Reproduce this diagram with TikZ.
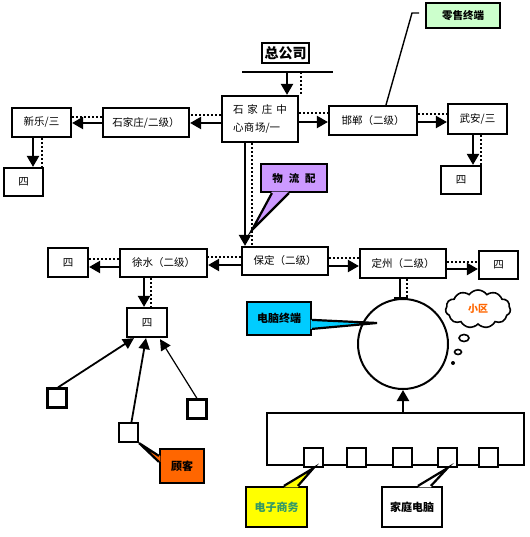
\documentclass[tikz,border=0pt]{standalone}
\usepackage{fontspec}
\usetikzlibrary{arrows.meta,shapes.symbols,calc}
\newfontfamily\cjk{Noto Sans CJK SC}
\definecolor{lsgreen}{HTML}{CCFFCC}
\definecolor{wlpurple}{HTML}{CC99FF}
\definecolor{dncyan}{HTML}{00CCFF}
\definecolor{gkorange}{HTML}{FF6600}
\definecolor{dzyellow}{HTML}{FFFF00}
\definecolor{dztext}{HTML}{339966}
\begin{document}
\begin{tikzpicture}[x=1pt,y=-1pt,
 box/.style={draw, line width=2.2pt, fill=white, inner sep=0pt, font=\cjk\fontsize{10.5}{12}\selectfont},
 sq/.style={draw, line width=2.2pt, fill=white, inner sep=0pt, minimum size=19pt},
 arr/.style={line width=2.2pt, -{Triangle[length=11pt,width=12pt]}},
 thinarr/.style={line width=1.6pt, -{Triangle[length=11pt,width=11pt]}},
 dotline/.style={line width=2.2pt, dash pattern=on 2pt off 2pt},
 call/.style={draw, line width=2.2pt, inner sep=0pt, font=\cjk\bfseries\fontsize{11}{13}\selectfont},
 tailline/.style={line width=2.2pt, line join=miter},
]
\useasboundingbox (0,0) rectangle (529,537);

% ---- top row ----
\node[box, minimum width=47pt, minimum height=20pt, line width=1.2pt, font=\cjk\bfseries\fontsize{14}{16}\selectfont] (zgs) at (285.5,53) {总公司};
\coordinate (barL) at (242,72);
\coordinate (barR) at (333,72);
\coordinate (barA) at (287,72);
\coordinate (barD) at (301,72);
\draw[line width=2.2pt] (barL) -- (barR);

\node[box, minimum width=76pt, minimum height=46pt, align=left, font=\cjk\fontsize{10.5}{18}\selectfont] (hq) at (260,119) {石\hspace{4pt}家\hspace{4pt}庄\hspace{4pt}中\\心\hspace{0.5pt}商\hspace{0.5pt}场/一};
\node[box, minimum width=86pt, minimum height=29pt] (sjz) at (146,122.5) {石家庄/二级）};
\node[box, minimum width=59pt, minimum height=29pt] (xinle) at (41.5,122.5) {新乐/三};
\node[box, minimum width=39pt, minimum height=28pt] (si1) at (23.5,182) {四};
\node[box, minimum width=88pt, minimum height=29pt] (handan) at (373,120.5) {邯郸（二级）};
\node[box, minimum width=59pt, minimum height=30pt] (wuan) at (477.5,119) {武安/三};
\node[box, minimum width=40pt, minimum height=28pt] (si2) at (461,180) {四};
\node[call, fill=lsgreen, minimum width=74pt, minimum height=25pt, font=\cjk\bfseries\fontsize{10.5}{12}\selectfont] (ls) at (463,15.5) {零售终端};

\draw[arr] (barA) -- (hq.north -| barA);
\draw[dotline] (barD) -- (hq.north -| barD);
\draw[arr] (hq.west |- 0,123) -- (sjz.east |- 0,123);
\draw[dotline] (hq.west |- 0,115) -- (sjz.east |- 0,115);
\draw[arr] (sjz.west |- 0,123) -- (xinle.east |- 0,123);
\draw[dotline] (sjz.west |- 0,117) -- (xinle.east |- 0,117);
\draw[arr] (xinle.south -| 33,0) -- (si1.north -| 33,0);
\draw[dotline] (xinle.south -| 42,0) -- (si1.north -| 42,0);
\draw[arr] (hq.east |- 0,122) -- (handan.west |- 0,122);
\draw[dotline] (hq.east |- 0,113) -- (handan.west |- 0,113);
\draw[arr] (handan.east |- 0,122) -- (wuan.west |- 0,122);
\draw[dotline] (handan.east |- 0,114) -- (wuan.west |- 0,114);
\draw[arr] (wuan.south -| 473,0) -- (si2.north -| 473,0);
\draw[dotline] (wuan.south -| 481,0) -- (si2.north -| 481,0);
\coordinate (lsA) at (412,13);
\coordinate (lsB) at (419,13);
\draw[line width=1.4pt] (handan.north -| 386,0) -- (lsA) -- (lsB);

% ---- middle row ----
\node[box, minimum width=86pt, minimum height=28pt] (baoding) at (285,261) {保定（二级）};
\node[box, minimum width=87pt, minimum height=28pt] (xushui) at (163.5,263) {徐水（二级）};
\node[box, minimum width=40pt, minimum height=29pt] (si3) at (68,262.5) {四};
\node[box, minimum width=40pt, minimum height=29pt] (si4) at (147,322.5) {四};
\node[box, minimum width=86pt, minimum height=29pt] (dingzhou) at (403,263.5) {定州（二级）};
\node[box, minimum width=39pt, minimum height=28pt] (si5) at (498.5,265) {四};

\draw[arr] (hq.south -| 245,0) -- (baoding.north -| 245,0);
\draw[dotline] (hq.south -| 252,0) -- (baoding.north -| 252,0);
\draw[arr] (baoding.west |- 0,265) -- (xushui.east |- 0,265);
\draw[dotline] (baoding.west |- 0,257) -- (xushui.east |- 0,257);
\draw[arr] (xushui.west |- 0,267) -- (si3.east |- 0,267);
\draw[dotline] (xushui.west |- 0,259) -- (si3.east |- 0,259);
\draw[arr] (xushui.south -| 144,0) -- (si4.north -| 144,0);
\draw[dotline] (xushui.south -| 151,0) -- (si4.north -| 151,0);
\draw[arr] (baoding.east |- 0,266) -- (dingzhou.west |- 0,266);
\draw[dotline] (baoding.east |- 0,258) -- (dingzhou.west |- 0,258);
\draw[arr] (dingzhou.east |- 0,269) -- (si5.west |- 0,269);
\draw[dotline] (dingzhou.east |- 0,262) -- (si5.west |- 0,262);

% purple callout
\node[call, fill=wlpurple, minimum width=66pt, minimum height=28pt, font=\cjk\bfseries\fontsize{10.5}{12}\selectfont] (wl) at (294,178) {物\hspace{6pt}流\hspace{6pt}配};
\coordinate (wlTip) at (252,230);
\fill[wlpurple] ($(wl.south west)+(12,-1.5)$) -- (wlTip) -- ($(wl.south west)+(29,-1.5)$) -- cycle;
\draw[tailline] ($(wl.south west)+(12,0)$) -- (wlTip) -- ($(wl.south west)+(29,0)$);

% ---- circle and cloud ----
\node[draw, circle, line width=2pt, minimum size=90pt, inner sep=0pt] (circ) at (403,344) {};
\draw[line width=2.2pt] (dingzhou.south -| 400,0) -- (circ.north -| 400,0);
\draw[dotline] (dingzhou.south -| 407,0) -- (circ.north -| 407,0);
\draw[line width=3pt] (circ.north -| 394,0) -- (circ.north -| 408,0);

\node[cloud, cloud puffs=11, cloud puff arc=110, aspect=1.7, draw, line width=1.6pt, minimum width=65pt, minimum height=38pt, inner sep=0pt, text=gkorange, font=\cjk\bfseries\fontsize{10}{12}\selectfont] (cloud) at (478,309) {小区};
\draw[line width=1.6pt] (464,338) ellipse (5 and 3.5);
\draw[line width=1.6pt] (458,352) ellipse (3.5 and 2.5);
\fill (453,363) circle (2);

% cyan callout
\node[call, fill=dncyan, minimum width=64pt, minimum height=33pt] (dn) at (279,318.5) {电脑终端};
\coordinate (dnTip) at (377,323);
\fill[dncyan] ($(dn.north east)+(-1.5,19)$) -- (dnTip) -- ($(dn.north east)+(-1.5,28)$) -- cycle;
\draw[tailline] ($(dn.north east)+(0,19)$) -- (dnTip) -- ($(dn.north east)+(0,28)$);

% ---- bottom right bus ----
\node[draw, line width=2.2pt, minimum width=257pt, minimum height=52pt, inner sep=0pt] (bus) at (395.5,439) {};
\draw[arr] (circ.south |- bus.north) -- (circ.south);
\node[sq] (b1) at (313.5,457.5) {};
\node[sq] (b2) at (356.5,457.5) {};
\node[sq] (b3) at (402.5,457.5) {};
\node[sq] (b4) at (447.5,457.5) {};
\node[sq] (b5) at (488.5,457.5) {};

\node[call, fill=dzyellow, text=dztext, minimum width=61pt, minimum height=40pt] (dz) at (276.5,507) {电子商务};
\fill[dzyellow] ($(dz.north west)+(39,1.5)$) -- (b1.south) -- ($(dz.north west)+(53,1.5)$) -- cycle;
\draw[tailline] ($(dz.north west)+(39,0)$) -- (b1.south) -- ($(dz.north west)+(53,0)$);

\node[call, fill=white, minimum width=60pt, minimum height=40pt] (jt) at (412,507) {家庭电脑};
\fill[white] ($(jt.north west)+(37,1.5)$) -- (b4.south) -- ($(jt.north west)+(50,1.5)$) -- cycle;
\draw[tailline] ($(jt.north west)+(37,0)$) -- (b4.south) -- ($(jt.north west)+(50,0)$);

% ---- customers ----
\node[sq] (c1) at (57,398) {};
\node[sq] (c2) at (128.5,432.5) {};
\node[sq] (c3) at (197,409) {};
\draw[thinarr, line width=1.8pt] ($(c1.north)+(1,0)$) -- ($(si4.south)+(-13,0)$);
\draw[thinarr, line width=1.8pt] ($(c2.north)+(3,0)$) -- ($(si4.south)+(-1,0)$);
\draw[thinarr, line width=1.2pt] ($(c3.north)+(0,0)$) -- ($(si4.south)+(13,1)$);

\node[call, fill=gkorange, minimum width=44pt, minimum height=34pt] (gk) at (182,466) {顾客};
\fill[gkorange] ($(gk.north west)+(1.5,8)$) -- (c2.south east) -- ($(gk.north west)+(1.5,14)$) -- cycle;
\draw[tailline] ($(gk.north west)+(0,8)$) -- (c2.south east) -- ($(gk.north west)+(0,14)$);
\end{tikzpicture}
\end{document}
